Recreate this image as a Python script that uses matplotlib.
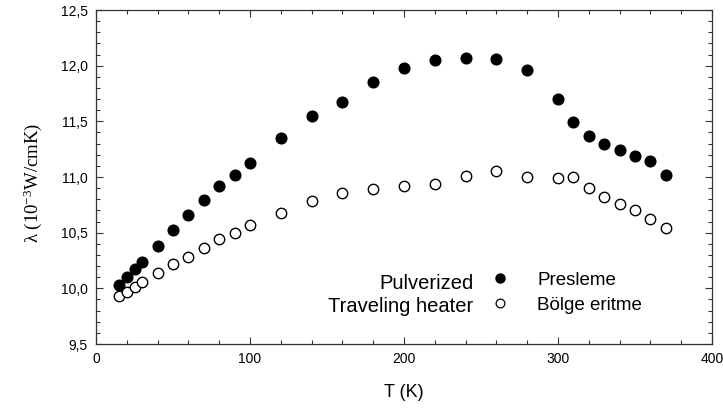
import matplotlib
matplotlib.use("Agg")
import matplotlib.pyplot as plt
from matplotlib.ticker import MultipleLocator, FuncFormatter

T = [15, 20, 25, 30, 40, 50, 60, 70, 80, 90, 100, 120, 140, 160, 180, 200,
     220, 240, 260, 280, 300, 310, 320, 330, 340, 350, 360, 370]
presleme = [10.03, 10.10, 10.17, 10.24, 10.38, 10.52, 10.66, 10.79, 10.92, 11.02,
            11.13, 11.35, 11.55, 11.67, 11.85, 11.98, 12.05, 12.07, 12.06, 11.96,
            11.70, 11.49, 11.37, 11.30, 11.24, 11.19, 11.14, 11.02]
bolge = [9.93, 9.97, 10.01, 10.06, 10.14, 10.22, 10.28, 10.36, 10.44, 10.50,
         10.57, 10.68, 10.78, 10.86, 10.89, 10.92, 10.94, 11.01, 11.05, 11.00,
         10.99, 11.00, 10.90, 10.82, 10.76, 10.70, 10.62, 10.54]

plt.rcParams['font.family'] = ['Liberation Sans', 'DejaVu Sans']
plt.rcParams['mathtext.fontset'] = 'custom'
plt.rcParams['mathtext.rm'] = 'Liberation Serif'
plt.rcParams['mathtext.it'] = 'Liberation Serif:italic'

fig = plt.figure(figsize=(7.23, 4.15), dpi=100)
ax = fig.add_axes([96/723, 1-344/415, 616/723, 334/415])

ax.plot(T, presleme, 'o', color='black', markersize=7.7, linestyle='none')
ax.plot(T, bolge, 'o', markerfacecolor='white', markeredgecolor='black',
        markeredgewidth=1.0, markersize=7.5, linestyle='none')

ax.set_xlim(0, 400)
ax.set_ylim(9.5, 12.5)
ax.xaxis.set_major_locator(MultipleLocator(100))
ax.xaxis.set_minor_locator(MultipleLocator(20))
ax.yaxis.set_major_locator(MultipleLocator(0.5))
ax.yaxis.set_minor_locator(MultipleLocator(0.1))
ax.yaxis.set_major_formatter(FuncFormatter(lambda v, p: f"{v:.1f}".replace('.', ',')))
ax.tick_params(which='both', direction='in', top=True, right=True,
               labelsize=10, color='#333333', width=0.8)
ax.tick_params(which='major', length=5, pad=6)
ax.tick_params(which='minor', length=3)
for s in ax.spines.values():
    s.set_linewidth(0.9)
    s.set_color('#333333')

ax.set_xlabel('T (K)', fontsize=13, labelpad=13)
ax.set_ylabel('λ (10$^{-3}$W/cmK)', fontsize=13.5, family='Liberation Serif')
ax.yaxis.set_label_coords(-0.085, 0.482)

# legend-like annotation
ax.plot([262.3], [10.093], 'o', color='black', markersize=6.5)
ax.plot([262.3], [9.868], 'o', markerfacecolor='white', markeredgecolor='black',
        markersize=6.3, markeredgewidth=0.9)
ax.text(245, 9.994, 'Pulverized', ha='right', va='baseline', fontsize=14.5)
ax.text(245, 9.787, 'Traveling heater', ha='right', va='baseline', fontsize=14.5)
ax.text(286.5, 10.03, 'Presleme', ha='left', va='baseline', fontsize=13.5)
ax.text(286.5, 9.805, 'Bölge eritme', ha='left', va='baseline', fontsize=13.5)

fig.savefig('out.png', dpi=100)
